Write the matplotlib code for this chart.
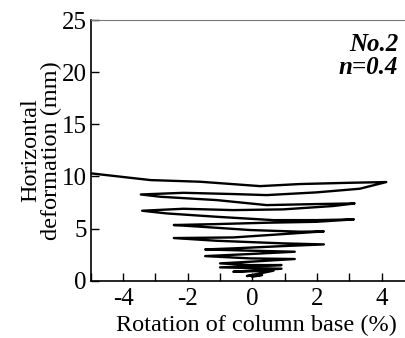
import numpy as np
import matplotlib
matplotlib.use('Agg')
import matplotlib.pyplot as plt

# loop path, traced from the final (largest) cycle down
rotation = [-4.98, -3.15, -1.61, 0.24, 1.47, 3.00, 4.14,
            3.32, 1.98, 0.44, -0.59, -2.13, -3.45,
            -2.84, -1.10, 0.44, 1.98, 3.16,
            2.49, 0.95, -0.59, -2.13, -3.41,
            -2.64, -1.10, 0.65, 1.98, 3.14,
            1.98, 0.44, -1.10, -2.43,
            -1.61, -0.07, 1.47, 2.21,
            0.95, -0.59, -2.43,
            -1.10, 0.95, 2.21,
            0.95, -0.59, -1.46,
            -0.07, 1.31,
            -0.07, -1.46,
            -0.07, 1.31,
            -0.07, -1.00,
            -0.07, 0.90,
            -1.00,
            0.90,
            -0.59, 0.65, -0.17, 0.30, 0.00]
deformation = [10.29, 9.65, 9.49, 9.07, 9.27, 9.39, 9.46,
               8.82, 8.47, 8.21, 8.31, 8.43, 8.27,
               8.05, 7.73, 7.25, 7.35, 7.41,
               7.16, 6.84, 6.77, 6.90, 6.71,
               6.45, 6.13, 5.81, 5.81, 5.88,
               5.65, 5.56, 5.43, 5.34,
               5.18, 4.86, 4.70, 4.73,
               4.47, 4.15, 4.09,
               3.83, 3.58, 3.48,
               3.32, 3.10, 3.00,
               2.88, 2.78,
               2.56, 2.36,
               2.14, 2.08,
               1.82, 1.66,
               1.50, 1.50,
               1.28,
               1.15,
               0.86, 0.96, 0.45, 0.55, 0.38]

plt.rcParams['font.family'] = 'Liberation Serif'
plt.rcParams['axes.unicode_minus'] = False

fig = plt.figure(figsize=(4.06, 3.38), dpi=100)
ax = fig.add_axes([0.2234, 0.1695, 0.7766, 0.7713])

ax.plot(rotation, deformation, color='black', lw=1.7, solid_joinstyle='round')

ax.set_xlim(-5, 4.75)
ax.set_ylim(0, 25)
ax.set_xticks([-4, -2, 0, 2, 4])
ax.set_xticks([-5, -3, -1, 1, 3], minor=True)
ax.set_yticks([0, 5, 10, 15, 20, 25])
ax.tick_params(axis='both', which='both', direction='in', length=6, width=1,
               labelsize=18)
ax.tick_params(axis='x', pad=5)
ax.tick_params(axis='y', pad=3)

ax.spines['right'].set_visible(False)
ax.spines['top'].set_color('#777777')
ax.spines['left'].set_linewidth(1.2)
ax.spines['bottom'].set_linewidth(1.2)

ax.set_xlabel('Rotation of column base (%)', fontsize=17.5)
ax.xaxis.set_label_coords(0.525, -0.13)
ax.set_ylabel('Horizontal\ndeformation (mm)', fontsize=17.5, labelpad=0,
              linespacing=0.95)

ax.text(0.975, 0.95, 'No.2\nn=0.4', transform=ax.transAxes, ha='right', va='top',
        fontsize=18, fontweight='bold', fontstyle='italic', linespacing=1.0)

fig.savefig('out.png', dpi=100)
